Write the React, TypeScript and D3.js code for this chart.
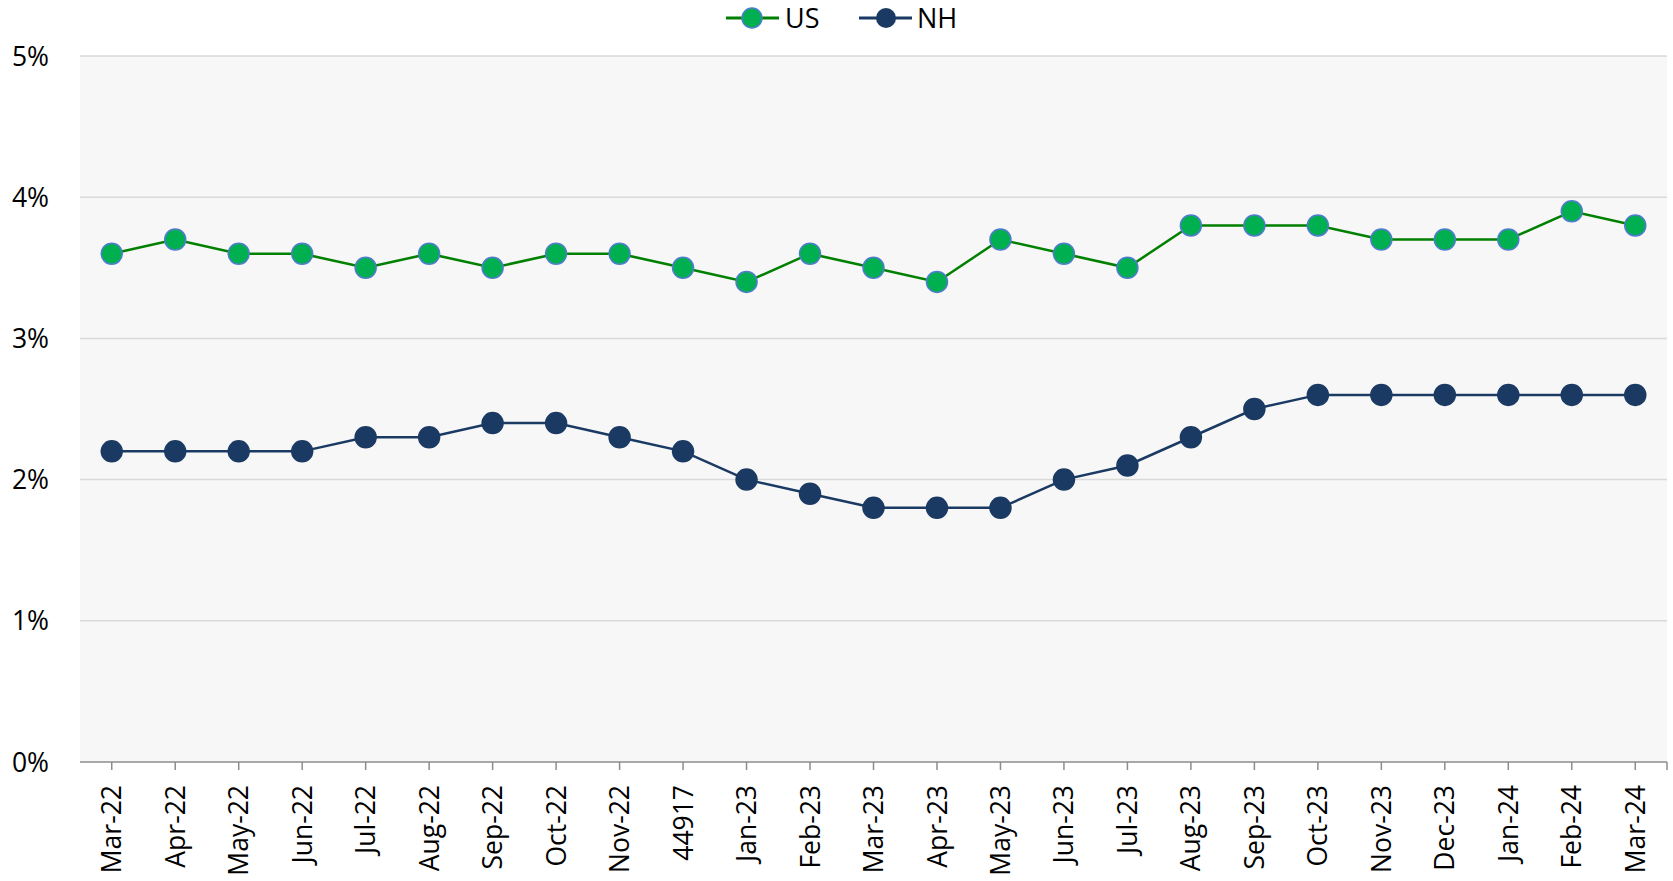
import React, { useEffect, useRef } from "react";
import * as d3 from "d3";

const WIDTH = 1673;
const HEIGHT = 881;
const MARGIN = { top: 56, right: 6, bottom: 119, left: 80 };

const months = [
  "Mar-22", "Apr-22", "May-22", "Jun-22", "Jul-22", "Aug-22", "Sep-22", "Oct-22",
  "Nov-22", "44917", "Jan-23", "Feb-23", "Mar-23", "Apr-23", "May-23", "Jun-23",
  "Jul-23", "Aug-23", "Sep-23", "Oct-23", "Nov-23", "Dec-23", "Jan-24", "Feb-24", "Mar-24",
];

const usValues = [
  3.6, 3.7, 3.6, 3.6, 3.5, 3.6, 3.5, 3.6, 3.6, 3.5, 3.4, 3.6, 3.5, 3.4, 3.7, 3.6,
  3.5, 3.8, 3.8, 3.8, 3.7, 3.7, 3.7, 3.9, 3.8,
];

const nhValues = [
  2.2, 2.2, 2.2, 2.2, 2.3, 2.3, 2.4, 2.4, 2.3, 2.2, 2.0, 1.9, 1.8, 1.8, 1.8, 2.0,
  2.1, 2.3, 2.5, 2.6, 2.6, 2.6, 2.6, 2.6, 2.6,
];

const yTicks = [0, 1, 2, 3, 4, 5];

const FONT = "'Open Sans', 'Noto Sans', sans-serif";
const FONT_SIZE = 26.5;

const series = [
  { name: "US", values: usValues, line: "#008000", fill: "#00b050", stroke: "#4f7ccc" },
  { name: "NH", values: nhValues, line: "#1b3a63", fill: "#1b3a63", stroke: "#1b3a63" },
];

const App = () => {
  const axesRef = useRef<SVGGElement | null>(null);
  const boundsWidth = WIDTH - MARGIN.left - MARGIN.right;
  const boundsHeight = HEIGHT - MARGIN.top - MARGIN.bottom;

  const xScale = d3.scaleBand().domain(months).range([0, boundsWidth]).padding(0);
  const yScale = d3.scaleLinear().domain([0, 5]).range([boundsHeight, 0]);
  const xPos = (m: string) => (xScale(m) ?? 0) + xScale.bandwidth() / 2;

  useEffect(() => {
    const g = d3.select(axesRef.current);
    g.selectAll("*").remove();

    // y labels
    g.append("g")
      .selectAll("text")
      .data(yTicks)
      .join("text")
      .attr("x", -31)
      .attr("y", (d) => yScale(d))
      .attr("dy", "0.36em")
      .attr("text-anchor", "end")
      .attr("font-family", FONT)
      .attr("font-size", FONT_SIZE)
      .attr("fill", "#000")
      .text((d) => `${d}%`);

    // x axis baseline + ticks
    const xa = g.append("g").attr("transform", `translate(0,${boundsHeight})`);
    xa.append("line")
      .attr("x1", 0)
      .attr("x2", boundsWidth)
      .attr("stroke", "#8c8c8c")
      .attr("stroke-width", 1.5);
    xa.selectAll("line.tick")
      .data([...months.map(xPos), boundsWidth])
      .join("line")
      .attr("class", "tick")
      .attr("x1", (d) => d)
      .attr("x2", (d) => d)
      .attr("y1", 0)
      .attr("y2", 8)
      .attr("stroke", "#8c8c8c")
      .attr("stroke-width", 1.5);
    xa.selectAll("text")
      .data(months)
      .join("text")
      .attr("transform", (d) => `translate(${xPos(d)},23) rotate(-90)`)
      .attr("dy", "0.36em")
      .attr("text-anchor", "end")
      .attr("font-family", FONT)
      .attr("font-size", FONT_SIZE)
      .attr("fill", "#000")
      .text((d) => d);
  }, [xScale, yScale, boundsHeight, boundsWidth]);

  const line = d3
    .line<number>()
    .x((_, i) => xPos(months[i]))
    .y((d) => yScale(d));

  return (
    <svg width={WIDTH} height={HEIGHT} style={{ position: "absolute", left: 0, top: 0 }}>
      {/* legend */}
      <g fontFamily={FONT} fontSize={27}>
        <line x1={726} x2={779} y1={18} y2={18} stroke="#008000" strokeWidth={3} />
        <circle cx={752} cy={18} r={10} fill="#00b050" stroke="#4f7ccc" strokeWidth={1.5} />
        <text x={785} y={18} dy="0.36em" fill="#000">US</text>
        <line x1={859} x2={912} y1={18} y2={18} stroke="#1b3a63" strokeWidth={3} />
        <circle cx={886} cy={18} r={10} fill="#1b3a63" />
        <text x={917} y={18} dy="0.36em" fill="#000">NH</text>
      </g>
      <g transform={`translate(${MARGIN.left},${MARGIN.top})`}>
        <rect x={0} y={0} width={boundsWidth} height={boundsHeight} fill="#f7f7f7" />
        {yTicks.filter((t) => t > 0).map((t) => (
          <line
            key={t}
            x1={0}
            x2={boundsWidth}
            y1={yScale(t)}
            y2={yScale(t)}
            stroke="#d9d9d9"
            strokeWidth={1.5}
          />
        ))}
        {series.map((s) => (
          <g key={s.name}>
            <path d={line(s.values) ?? ""} fill="none" stroke={s.line} strokeWidth={2.5} />
            {s.values.map((v, i) => (
              <circle
                key={i}
                cx={xPos(months[i])}
                cy={yScale(v)}
                r={10.5}
                fill={s.fill}
                stroke={s.stroke}
                strokeWidth={1.5}
              />
            ))}
          </g>
        ))}
      </g>
      <g ref={axesRef} transform={`translate(${MARGIN.left},${MARGIN.top})`} />
    </svg>
  );
};

export default App;
